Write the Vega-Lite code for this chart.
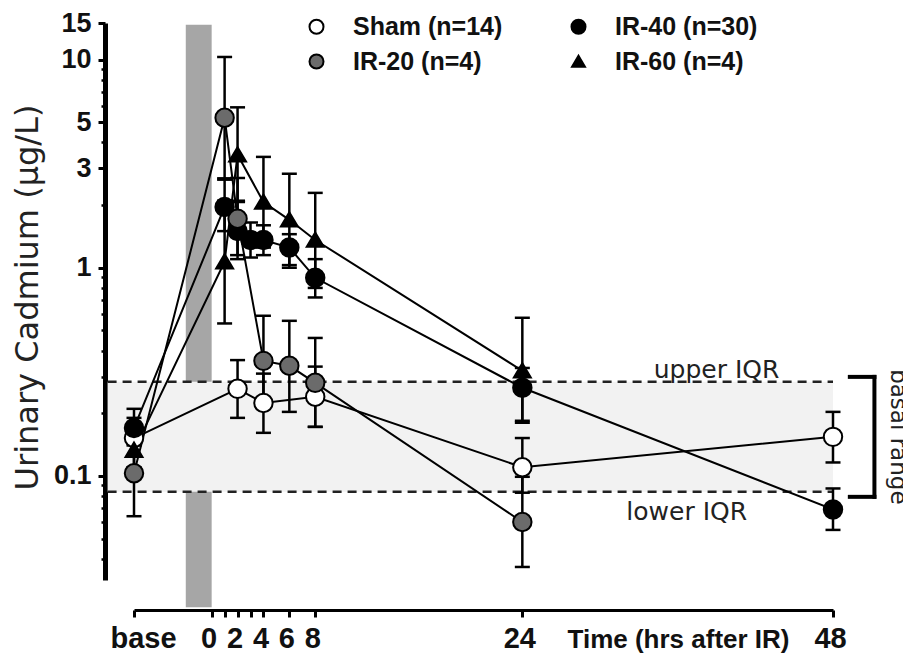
{
  "$schema": "https://vega.github.io/schema/vega-lite/v6.json",
  "width": 699,
  "height": 557,
  "autosize": "none",
  "padding": {"left": 134, "top": 23, "right": 70, "bottom": 75},
  "background": "white",
  "config": {"view": {"stroke": null}, "font": "Liberation Sans"},
  "datasets": {
    "pts": [
      {"g": "Sham", "t": -6, "v": 0.152, "lo": 0.125, "hi": 0.19},
      {"g": "Sham", "t": 2, "v": 0.262, "lo": 0.19, "hi": 0.36},
      {"g": "Sham", "t": 4, "v": 0.224, "lo": 0.161, "hi": 0.31},
      {"g": "Sham", "t": 8, "v": 0.24, "lo": 0.172, "hi": 0.335},
      {"g": "Sham", "t": 24, "v": 0.11, "lo": 0.083, "hi": 0.152},
      {"g": "Sham", "t": 48, "v": 0.154, "lo": 0.116, "hi": 0.203},
      {"g": "IR-40", "t": -6, "v": 0.17, "lo": 0.14, "hi": 0.21},
      {"g": "IR-40", "t": 1, "v": 1.96, "lo": 1.5, "hi": 2.65},
      {"g": "IR-40", "t": 2, "v": 1.5, "lo": 1.15, "hi": 2.07},
      {"g": "IR-40", "t": 3, "v": 1.36, "lo": 1.12, "hi": 1.65},
      {"g": "IR-40", "t": 4, "v": 1.36, "lo": 1.15, "hi": 1.6},
      {"g": "IR-40", "t": 6, "v": 1.25, "lo": 1.03, "hi": 1.45},
      {"g": "IR-40", "t": 8, "v": 0.895, "lo": 0.72, "hi": 1.1},
      {"g": "IR-40", "t": 24, "v": 0.265, "lo": 0.184, "hi": 0.33},
      {"g": "IR-40", "t": 48, "v": 0.069, "lo": 0.055, "hi": 0.087},
      {"g": "IR-60", "t": -6, "v": 0.133, "lo": 0.11, "hi": 0.16},
      {"g": "IR-60", "t": 1, "v": 1.07, "lo": 0.54, "hi": 2.1},
      {"g": "IR-60", "t": 2, "v": 3.49, "lo": 2.1, "hi": 5.9},
      {"g": "IR-60", "t": 4, "v": 2.07, "lo": 1.25, "hi": 3.41},
      {"g": "IR-60", "t": 6, "v": 1.7, "lo": 1.0, "hi": 2.83},
      {"g": "IR-60", "t": 8, "v": 1.36, "lo": 0.8, "hi": 2.29},
      {"g": "IR-60", "t": 24, "v": 0.32, "lo": 0.18, "hi": 0.575},
      {"g": "IR-20", "t": -6, "v": 0.103, "lo": 0.064, "hi": 0.165},
      {"g": "IR-20", "t": 1, "v": 5.26, "lo": 2.69, "hi": 10.3},
      {"g": "IR-20", "t": 2, "v": 1.72, "lo": 1.1, "hi": 2.7},
      {"g": "IR-20", "t": 4, "v": 0.357, "lo": 0.217, "hi": 0.588},
      {"g": "IR-20", "t": 6, "v": 0.338, "lo": 0.203, "hi": 0.556},
      {"g": "IR-20", "t": 8, "v": 0.28, "lo": 0.172, "hi": 0.46},
      {"g": "IR-20", "t": 24, "v": 0.06, "lo": 0.0365, "hi": 0.099}
    ],
    "irbar": [{"t0": -2, "t1": 0, "lo": 0.0234, "hi": 14.7}],
    "band": [{"t0": -8.04, "t1": 48, "lo": 0.0838, "hi": 0.283}],
    "iqr": [{"t0": -8.04, "t1": 48, "v": 0.283}, {"t0": -8.04, "t1": 48, "v": 0.0838}],
    "bracket": [
      {"t0": 51.2, "t1": 51.2, "v0": 0.299, "v1": 0.0793},
      {"t0": 49.3, "t1": 51.2, "v0": 0.299, "v1": 0.299},
      {"t0": 49.3, "t1": 51.2, "v0": 0.0793, "v1": 0.0793}
    ],
    "notes": [
      {"label": "upper IQR", "t": 39.0, "v": 0.323},
      {"label": "lower IQR", "t": 36.7, "v": 0.067}
    ],
    "side": [{"label": "basal range", "t": 52.45, "v": 0.154}]
  },
  "layer": [
    {
      "data": {"name": "irbar"},
      "mark": {"type": "rect", "fill": "#a6a6a6"},
      "encoding": {
        "x": {"field": "t0", "type": "quantitative", "scale": {"domain": [-6, 48], "nice": false, "zero": false},
          "axis": {
            "values": [-6, 0, 1, 2, 3, 4, 6, 8, 24, 48],
            "labelExpr": "datum.value == -6 ? 'base' : (datum.value == 1 || datum.value == 3) ? '' : datum.label",
            "offset": 30, "domainWidth": 3, "domainColor": "black", "tickColor": "black", "tickWidth": 3, "tickSize": 7,
            "labelFontSize": 29, "labelFont": "Liberation Sans", "labelFontWeight": "bold", "labelColor": "#111",
            "labelPadding": 7, "labelOverlap": false, "labelBound": false, "labelFlush": false, "grid": false,
            "labelOffset": {"condition": {"test": "datum.value == -6", "value": 9}, "value": -3},
            "title": "Time (hrs after IR)", "titleX": 544, "titleY": 37, "titleBaseline": "alphabetic", "titleAlign": "center",
            "titleFontSize": 26, "titleFontWeight": "bold", "titleColor": "#111", "titleFont": "Liberation Sans"
          }},
        "x2": {"field": "t1"},
        "y": {"field": "lo", "type": "quantitative", "scale": {"type": "log", "domain": [0.0316, 15], "nice": false},
          "axis": {
            "orient": "left", "offset": 29, "values": [0.1, 1, 3, 5, 10, 15],
            "labelExpr": "format(datum.value, '~g')",
            "domainWidth": 5, "domainColor": "black", "tickColor": "black", "tickSize": 7, "tickWidth": 3,
            "labelFontSize": 27, "labelFont": "Liberation Sans", "labelFontWeight": "bold", "labelColor": "#111",
            "labelPadding": 7, "labelOverlap": false, "labelBound": false, "labelFlush": false, "grid": false,
            "title": "Urinary Cadmium (µg/L)", "titleFont": "DejaVu Sans", "titleFontSize": 32, "titleFontWeight": "normal",
            "titleX": -78, "titleY": 274, "titleAngle": -90, "titleAlign": "center", "titleBaseline": "middle", "titleColor": "#222"
          }},
        "y2": {"field": "hi"}
      }
    },
    {
      "data": {"name": "band"},
      "mark": {"type": "rect", "fill": "#f2f2f2"},
      "encoding": {
        "x": {"field": "t0", "type": "quantitative", "axis": null},
        "x2": {"field": "t1"},
        "y": {"field": "lo", "type": "quantitative",
          "axis": {
            "orient": "left", "offset": 29, "values": [0.04, 0.05, 0.06, 0.07, 0.08, 0.09, 0.2, 0.3, 0.4, 0.5, 0.6, 0.7, 0.8, 0.9, 2, 4, 6, 7, 8, 9],
            "domain": false, "labels": false, "tickSize": 4, "tickWidth": 2.5, "tickColor": "black", "title": null, "grid": false
          }},
        "y2": {"field": "hi"}
      }
    },
    {
      "data": {"name": "iqr"},
      "mark": {"type": "rule", "color": "#222", "strokeWidth": 2.5, "strokeDash": [9, 6]},
      "encoding": {
        "x": {"field": "t0", "type": "quantitative", "axis": null},
        "x2": {"field": "t1"},
        "y": {"field": "v", "type": "quantitative", "axis": null}
      }
    },
    {
      "data": {"name": "bracket"},
      "mark": {"type": "rule", "color": "black", "strokeWidth": 4, "strokeCap": "square"},
      "encoding": {
        "x": {"field": "t0", "type": "quantitative", "axis": null},
        "x2": {"field": "t1"},
        "y": {"field": "v0", "type": "quantitative", "axis": null},
        "y2": {"field": "v1"}
      }
    },
    {
      "data": {"name": "notes"},
      "mark": {"type": "text", "font": "DejaVu Sans", "fontSize": 25, "color": "#222", "align": "center", "baseline": "middle"},
      "encoding": {
        "x": {"field": "t", "type": "quantitative", "axis": null},
        "y": {"field": "v", "type": "quantitative", "axis": null},
        "text": {"field": "label"}
      }
    },
    {
      "data": {"name": "side"},
      "mark": {"type": "text", "font": "DejaVu Sans", "fontSize": 23, "color": "#222", "align": "center", "baseline": "alphabetic", "angle": 90},
      "encoding": {
        "x": {"field": "t", "type": "quantitative", "axis": null},
        "y": {"field": "v", "type": "quantitative", "axis": null},
        "text": {"field": "label"}
      }
    },
    {
      "data": {"name": "pts"},
      "mark": {"type": "line", "color": "black", "strokeWidth": 2},
      "encoding": {
        "x": {"field": "t", "type": "quantitative", "axis": null},
        "y": {"field": "v", "type": "quantitative", "axis": null},
        "detail": {"field": "g"},
        "order": {"field": "t", "type": "quantitative"}
      }
    },
    {
      "data": {"name": "pts"},
      "mark": {"type": "rule", "color": "black", "strokeWidth": 2.5},
      "encoding": {
        "x": {"field": "t", "type": "quantitative", "axis": null},
        "y": {"field": "lo", "type": "quantitative", "axis": null},
        "y2": {"field": "hi"}
      }
    },
    {
      "data": {"name": "pts"},
      "mark": {"type": "tick", "orient": "horizontal", "color": "black", "size": 15, "thickness": 2.5, "opacity": 1},
      "encoding": {
        "x": {"field": "t", "type": "quantitative", "axis": null},
        "y": {"field": "lo", "type": "quantitative", "axis": null}
      }
    },
    {
      "data": {"name": "pts"},
      "mark": {"type": "tick", "orient": "horizontal", "color": "black", "size": 15, "thickness": 2.5, "opacity": 1},
      "encoding": {
        "x": {"field": "t", "type": "quantitative", "axis": null},
        "y": {"field": "hi", "type": "quantitative", "axis": null}
      }
    },
    {
      "data": {"name": "pts"},
      "mark": {"type": "point", "filled": true, "strokeWidth": 2, "opacity": 1, "size": 340},
      "encoding": {
        "x": {"field": "t", "type": "quantitative", "axis": null},
        "y": {"field": "v", "type": "quantitative", "axis": null},
        "fill": {"field": "g", "type": "nominal",
          "scale": {"domain": ["Sham", "IR-20", "IR-40", "IR-60"], "range": ["white", "#6b6b6b", "black", "black"]},
          "legend": {
            "orient": "none", "legendX": 170, "legendY": -9, "columns": 2, "title": null,
            "labelExpr": "datum.label == 'Sham' ? 'Sham  (n=14)' : datum.label == 'IR-20' ? 'IR-20   (n=4)' : datum.label == 'IR-40' ? 'IR-40 (n=30)' : 'IR-60 (n=4)'",
            "labelFont": "Liberation Sans", "labelFontSize": 25, "labelFontWeight": "bold", "labelColor": "#111",
            "symbolSize": 196, "symbolStrokeWidth": 2, "symbolOpacity": 1,
            "labelOffset": 24, "columnPadding": 56, "rowPadding": 9, "padding": 0
          }},
        "stroke": {"field": "g", "type": "nominal",
          "scale": {"domain": ["Sham", "IR-20", "IR-40", "IR-60"], "range": ["black", "black", "black", "black"]},
          "legend": {
            "orient": "none", "legendX": 170, "legendY": -9, "columns": 2, "title": null,
            "labelExpr": "datum.label == 'Sham' ? 'Sham  (n=14)' : datum.label == 'IR-20' ? 'IR-20   (n=4)' : datum.label == 'IR-40' ? 'IR-40 (n=30)' : 'IR-60 (n=4)'",
            "labelFont": "Liberation Sans", "labelFontSize": 25, "labelFontWeight": "bold", "labelColor": "#111",
            "symbolSize": 196, "symbolStrokeWidth": 2, "symbolOpacity": 1,
            "labelOffset": 24, "columnPadding": 56, "rowPadding": 9, "padding": 0
          }},
        "shape": {"field": "g", "type": "nominal",
          "scale": {"domain": ["Sham", "IR-20", "IR-40", "IR-60"], "range": ["circle", "circle", "circle", "M0,-0.82L0.92,0.74L-0.92,0.74Z"]},
          "legend": {
            "orient": "none", "legendX": 170, "legendY": -9, "columns": 2, "title": null,
            "labelExpr": "datum.label == 'Sham' ? 'Sham  (n=14)' : datum.label == 'IR-20' ? 'IR-20   (n=4)' : datum.label == 'IR-40' ? 'IR-40 (n=30)' : 'IR-60 (n=4)'",
            "labelFont": "Liberation Sans", "labelFontSize": 25, "labelFontWeight": "bold", "labelColor": "#111",
            "symbolSize": 196, "symbolStrokeWidth": 2, "symbolOpacity": 1,
            "labelOffset": 24, "columnPadding": 56, "rowPadding": 9, "padding": 0
          }},
        "order": {"field": "g", "sort": "descending"}
      }
    }
  ],
  "resolve": {"axis": {"x": "independent", "y": "independent"}}
}
